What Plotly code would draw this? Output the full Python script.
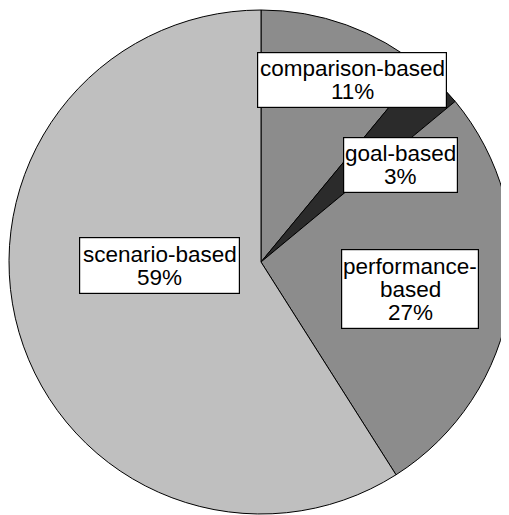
import plotly.graph_objects as go

categories = ["comparison-based", "goal-based", "performance-based", "scenario-based"]
values = [11, 3, 27, 59]
label_lines = [["comparison-based", "11%"], ["goal-based", "3%"],
               ["performance-", "based", "27%"], ["scenario-based", "59%"]]
colors = ["#8c8c8c", "#2b2b2b", "#8c8c8c", "#bfbfbf"]

OFF = 8  # default page body margin
W, H = 506, 508
# label box centres / sizes in window pixels (layout only)
boxes = [(352, 80, 190, 56), (400.5, 165, 115, 56), (410, 289, 138, 80), (159.5, 265.5, 161, 57)]
LINE = 23
FONT = dict(family="Liberation Sans, Arial, sans-serif", size=22.5, color="#000000")

def px(x):
    return (x - OFF) / W

def py(y):
    return 1 - (y - OFF) / H

cx0, cy0, r = 261, 262, 252
fig = go.Figure(go.Pie(
    labels=categories,
    values=values,
    sort=False,
    direction="clockwise",
    rotation=0,
    marker=dict(colors=colors, line=dict(color="#000000", width=1)),
    textinfo="none",
    hoverinfo="label+percent",
    showlegend=False,
    domain=dict(x=[max(0.0, px(cx0 - r)), min(1.0, px(cx0 + r))],
                y=[max(0.0, py(cy0 + r)), min(1.0, py(cy0 - r))]),
))

for lines, (bx, by, bw, bh) in zip(label_lines, boxes):
    fig.add_annotation(
        x=px(bx), y=py(by), xref="paper", yref="paper",
        xanchor="center", yanchor="middle", text=" ", showarrow=False,
        bgcolor="#ffffff", bordercolor="#000000", borderwidth=1.2, borderpad=0,
        width=bw - 2, height=bh - 2,
    )
    n = len(lines)
    for i, t in enumerate(lines):
        ly = by + (i - (n - 1) / 2) * LINE
        fig.add_annotation(
            x=px(bx), y=py(ly), xref="paper", yref="paper",
            xanchor="center", yanchor="middle", text=t, showarrow=False,
            font=FONT,
        )

fig.update_layout(
    width=W, height=H,
    margin=dict(l=0, r=0, t=0, b=0),
    paper_bgcolor="#ffffff", plot_bgcolor="#ffffff",
)

fig.write_html("out.html")
